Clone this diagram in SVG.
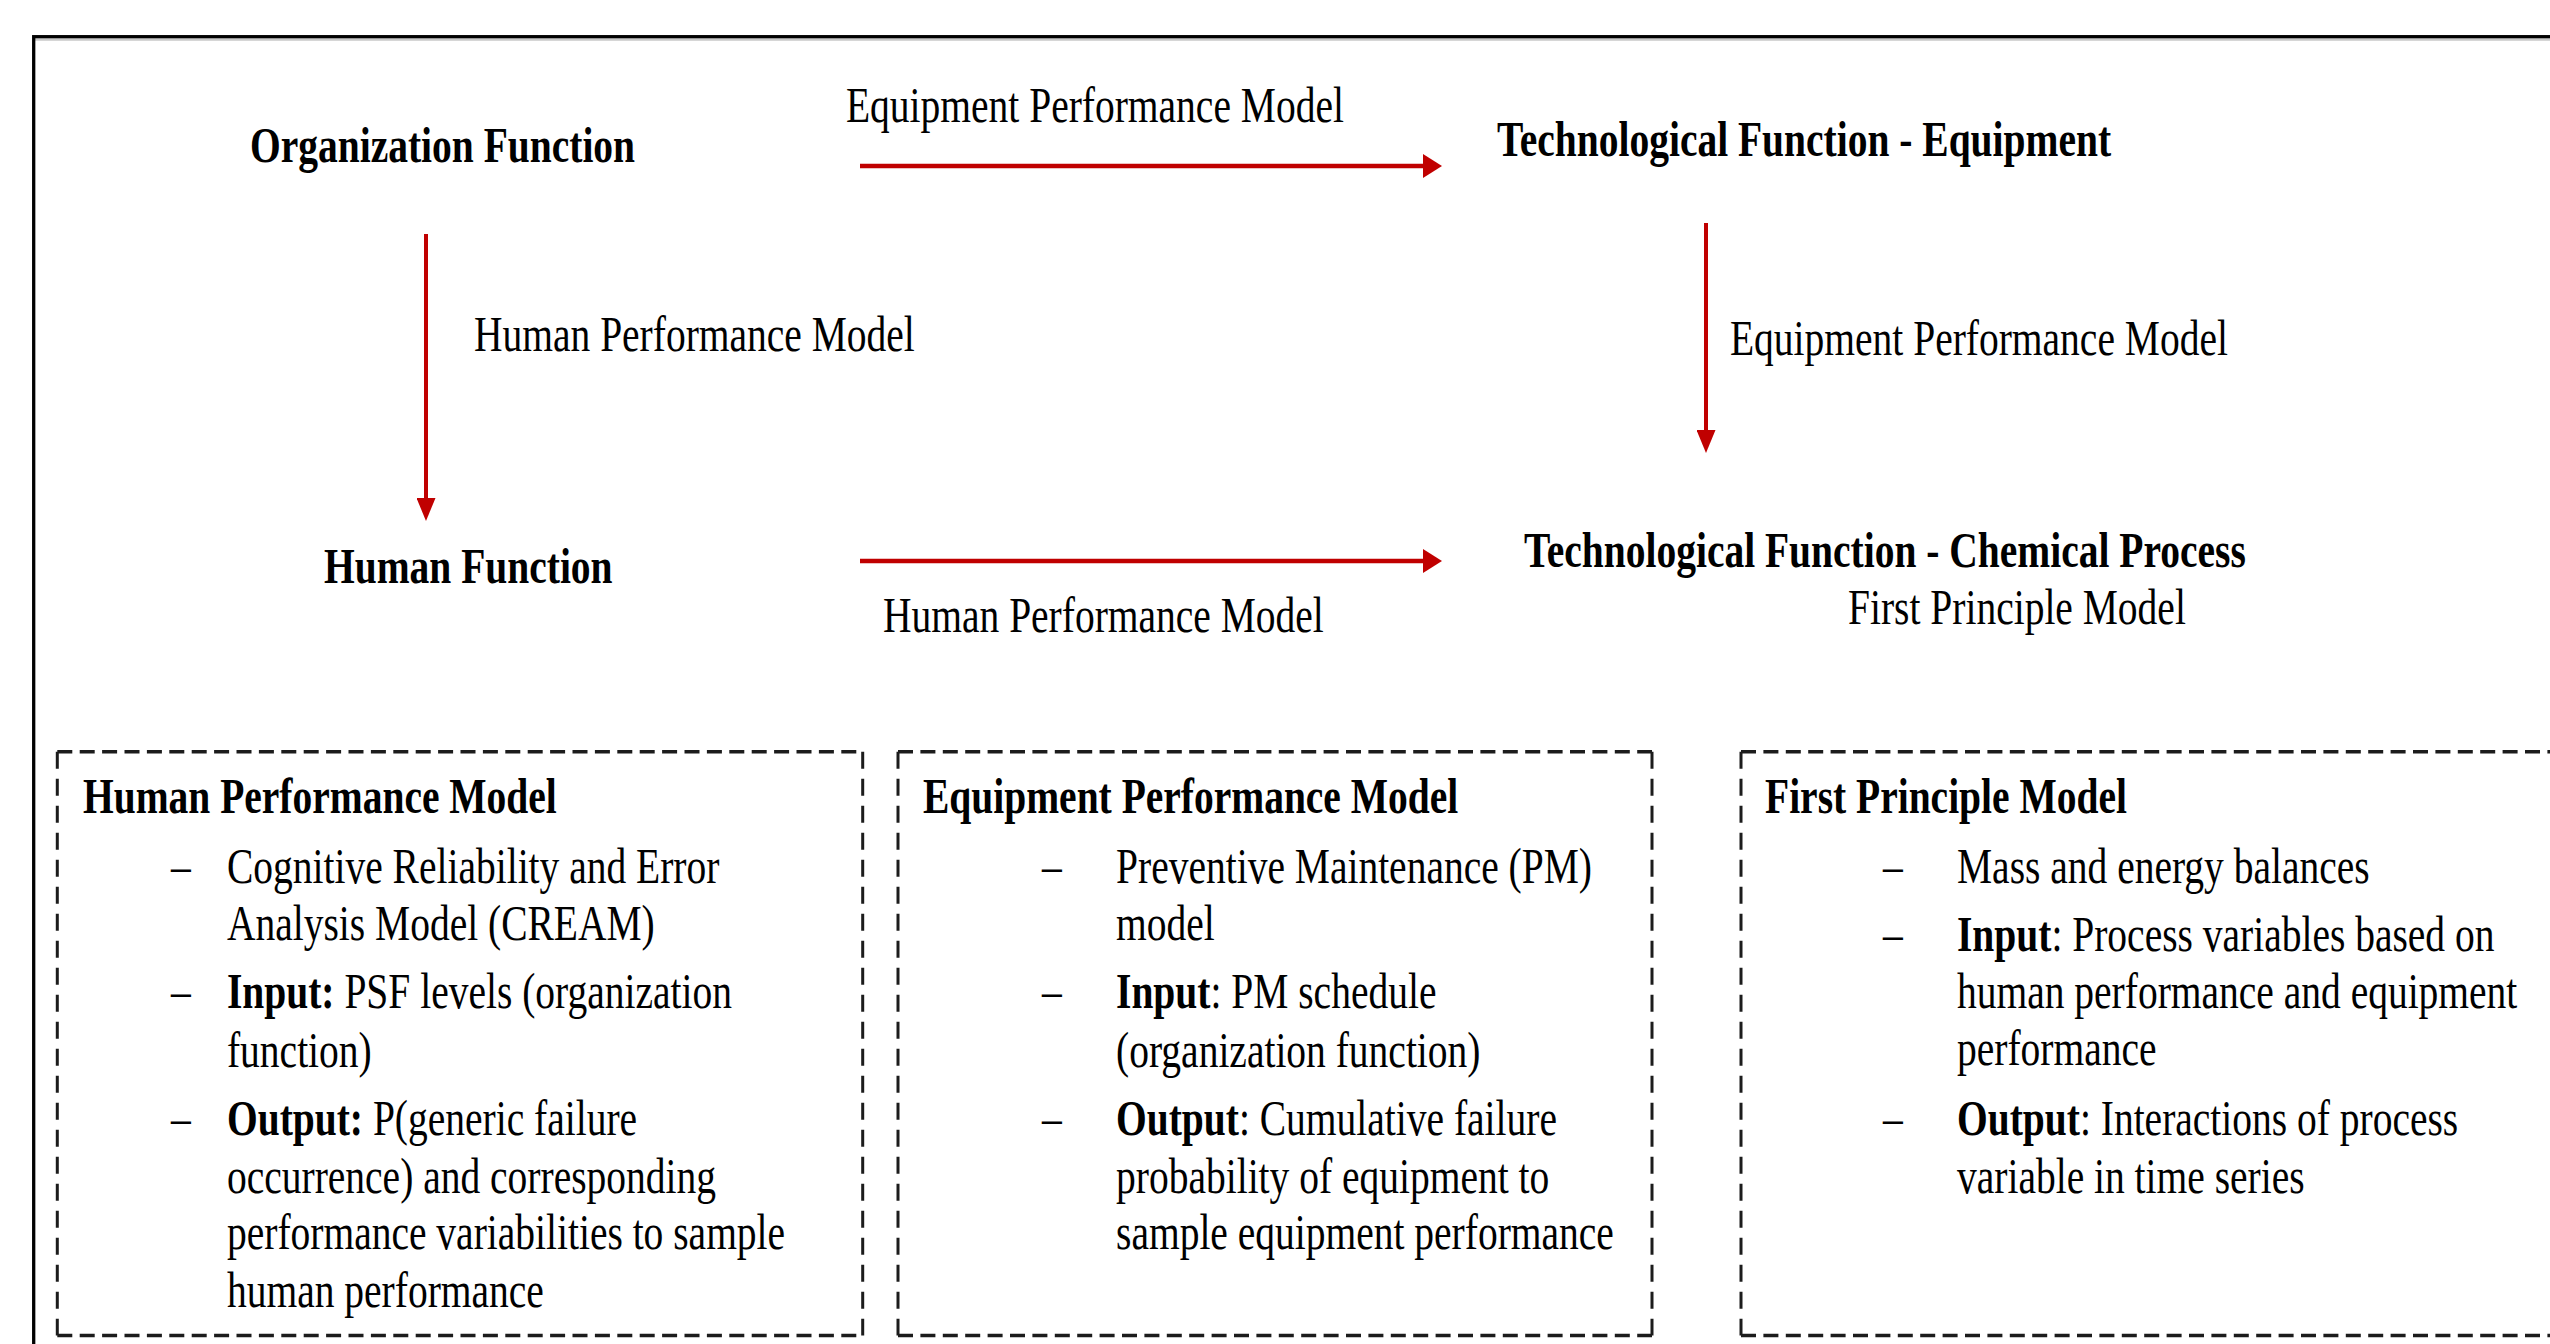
<svg xmlns="http://www.w3.org/2000/svg" width="2550" height="1344" viewBox="0 0 2550 1344">
  <defs>
    <style>
      text { font-family: "Liberation Serif", "Times New Roman", serif; font-size: 50px; fill: #000; }
      .b { font-weight: bold; }
      .frame { fill: none; stroke: #000; stroke-width: 3.3; }
      .frame-shade { stroke: #c8c8c8; stroke-width: 2.4; }
      .dash-h { fill: none; stroke: #1c1c1c; stroke-width: 3.4; stroke-dasharray: 15 7.4; }
      .dash-v { fill: none; stroke: #1c1c1c; stroke-width: 3; stroke-dasharray: 17 10; }
      .link-h { fill: none; stroke: #c00000; stroke-width: 4.5; marker-end: url(#head-h); }
      .link-v { fill: none; stroke: #c00000; stroke-width: 4; marker-end: url(#head-v); }
    </style>
    <marker id="head-h" markerUnits="userSpaceOnUse" viewBox="0 0 19 24" refX="0" refY="12" markerWidth="19" markerHeight="24" orient="auto">
      <path d="M0,0 L19,12 L0,24 Z" fill="#c00000"/>
    </marker>
    <marker id="head-v" markerUnits="userSpaceOnUse" viewBox="0 0 23 19" refX="0" refY="9.5" markerWidth="23" markerHeight="19" orient="auto">
      <path d="M0,0 L23,9.5 L0,19 Z" fill="#c00000"/>
    </marker>
  </defs>

  <rect width="2550" height="1344" fill="#fff"/>

  <!-- outer frame -->
  <line class="frame-shade" x1="35" y1="39.6" x2="2550" y2="39.6"/>
  <rect class="frame" x="33.7" y="36.7" width="2600" height="1400"/>

  <!-- connectors -->
  <g id="connectors">
    <line class="link-h" x1="860" y1="166" x2="1423" y2="166"/>
    <line class="link-h" x1="860" y1="561" x2="1423" y2="561"/>
    <line class="link-v" x1="426" y1="234" x2="426" y2="498"/>
    <line class="link-v" x1="1706" y1="223" x2="1706" y2="430"/>
    <text transform="translate(846 122) scale(0.79 1)">Equipment Performance Model</text>
    <text transform="translate(883 632) scale(0.79 1)">Human Performance Model</text>
    <text transform="translate(474 351) scale(0.79 1)">Human Performance Model</text>
    <text transform="translate(1730 355) scale(0.79 1)">Equipment Performance Model</text>
  </g>

  <!-- function nodes -->
  <g id="organization-function">
    <text class="b" transform="translate(250 162) scale(0.79 1)">Organization Function</text>
  </g>
  <g id="human-function">
    <text class="b" transform="translate(324 583) scale(0.79 1)">Human Function</text>
  </g>
  <g id="tech-equipment">
    <text class="b" transform="translate(1497 156) scale(0.79 1)">Technological Function - Equipment</text>
  </g>
  <g id="tech-chemical-process">
    <text class="b" transform="translate(1524 567) scale(0.79 1)">Technological Function - Chemical Process</text>
    <text transform="translate(1848 624) scale(0.79 1)">First Principle Model</text>
  </g>

  <!-- model description boxes -->
  <g id="human-performance-model">
    <path class="dash-h" d="M57.3,751.7 H862.7 M57.3,1335.5 H862.7"/>
    <path class="dash-v" d="M57.3,751.7 V1335.5 M862.7,751.7 V1335.5"/>
    <g transform="scale(0.79 1)">
      <text class="b" x="105.1" y="813">Human Performance Model</text>
      <text x="216.5" y="883">–</text>
      <text x="287.3" y="883">Cognitive Reliability and Error</text>
      <text x="287.3" y="940">Analysis Model (CREAM)</text>
      <text x="216.5" y="1008">–</text>
      <text x="287.3" y="1008"><tspan class="b">Input:</tspan> PSF levels (organization</text>
      <text x="287.3" y="1067">function)</text>
      <text x="216.5" y="1135">–</text>
      <text x="287.3" y="1135"><tspan class="b">Output:</tspan> P(generic failure</text>
      <text x="287.3" y="1193">occurrence) and corresponding</text>
      <text x="287.3" y="1249">performance variabilities to sample</text>
      <text x="287.3" y="1307">human performance</text>
    </g>
  </g>

  <g id="equipment-performance-model">
    <path class="dash-h" d="M898,751.7 H1652 M898,1335.5 H1652"/>
    <path class="dash-v" d="M898,751.7 V1335.5 M1652,751.7 V1335.5"/>
    <g transform="scale(0.79 1)">
      <text class="b" x="1168.4" y="813">Equipment Performance Model</text>
      <text x="1319" y="883">–</text>
      <text x="1412.7" y="883">Preventive Maintenance (PM)</text>
      <text x="1412.7" y="940">model</text>
      <text x="1319" y="1008">–</text>
      <text x="1412.7" y="1008"><tspan class="b">Input</tspan>: PM schedule</text>
      <text x="1412.7" y="1067">(organization function)</text>
      <text x="1319" y="1135">–</text>
      <text x="1412.7" y="1135"><tspan class="b">Output</tspan>: Cumulative failure</text>
      <text x="1412.7" y="1193">probability of equipment to</text>
      <text x="1412.7" y="1249">sample equipment performance</text>
    </g>
  </g>

  <g id="first-principle-model">
    <path class="dash-h" d="M1741,751.7 H2560 M1741,1335.5 H2560"/>
    <path class="dash-v" d="M1741,751.7 V1335.5"/>
    <g transform="scale(0.79 1)">
      <text class="b" x="2234.2" y="813">First Principle Model</text>
      <text x="2383.5" y="883">–</text>
      <text x="2477.2" y="883">Mass and energy balances</text>
      <text x="2383.5" y="951">–</text>
      <text x="2477.2" y="951"><tspan class="b">Input</tspan>: Process variables based on</text>
      <text x="2477.2" y="1008">human performance and equipment</text>
      <text x="2477.2" y="1065">performance</text>
      <text x="2383.5" y="1135">–</text>
      <text x="2477.2" y="1135"><tspan class="b">Output</tspan>: Interactions of process</text>
      <text x="2477.2" y="1193">variable in time series</text>
    </g>
  </g>
</svg>
